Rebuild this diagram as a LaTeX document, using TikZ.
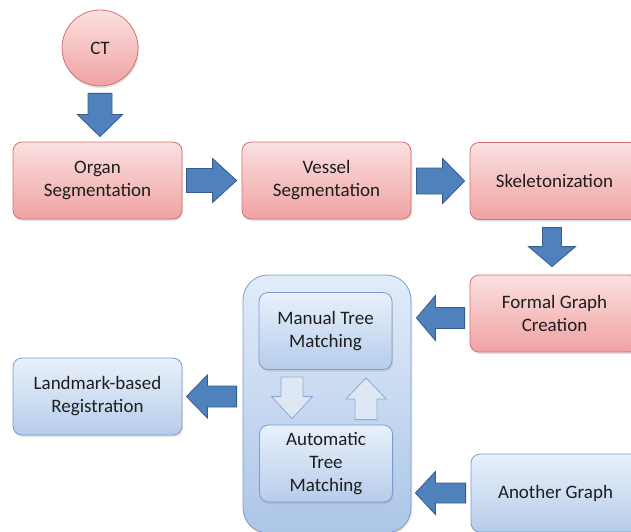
\documentclass[tikz,border=0pt]{standalone}
\usepackage{fontspec}
\setmainfont{Carlito}
\usetikzlibrary{calc,shadows}
\definecolor{redtop}{RGB}{251,224,224}
\definecolor{redbot}{RGB}{240,162,162}
\definecolor{redline}{RGB}{214,112,112}
\definecolor{bluetop}{RGB}{233,241,251}
\definecolor{bluebot}{RGB}{182,204,234}
\definecolor{blueline}{RGB}{122,158,208}
\definecolor{grptop}{RGB}{226,236,249}
\definecolor{grpbot}{RGB}{172,197,231}
\definecolor{arrfill}{RGB}{79,129,189}
\definecolor{arrline}{RGB}{56,93,138}
\definecolor{hollowfill}{RGB}{222,232,245}
\definecolor{hollowline}{RGB}{140,170,214}
\definecolor{txt}{RGB}{30,30,30}
\tikzset{
  boxtext/.style={align=center, text=txt, font=\fontsize{19}{23}\selectfont, inner sep=0pt},
  shadowed/.style={drop shadow={shadow xshift=1pt, shadow yshift=-2pt, opacity=0.22}},
  redbox/.style={boxtext, shadowed, draw=redline, line width=0.8pt, rounded corners=9pt,
    top color=redtop, bottom color=redbot, minimum width=169pt, minimum height=77pt},
  bluebox/.style={boxtext, shadowed, draw=blueline, line width=0.8pt, rounded corners=9pt,
    top color=bluetop, bottom color=bluebot, minimum width=169pt, minimum height=77pt},
  innerbox/.style={bluebox, minimum width=133pt},
  groupbox/.style={shadowed, draw=blueline, line width=0.8pt, rounded corners=25pt,
    top color=grptop, bottom color=grpbot, minimum width=168pt, minimum height=258pt},
  redcircle/.style={boxtext, shadowed, circle, draw=redline, line width=0.8pt,
    top color=redtop, bottom color=redbot, minimum size=76pt},
  solidarrow/.style={fill=arrfill, draw=arrline, line width=0.8pt, line join=miter},
  hollowarrow/.style={fill=hollowfill, draw=hollowline, line width=0.8pt, line join=miter}
}
% #2 tail, #3 tip, #4 direction angle, #5 shaft half width, #6 head half width, #7 head length
\newcommand\barrow[7][solidarrow]{%
  \draw[#1] ($(#2)+(#4+90:#5)$) -- ($(#3)+(#4+180:#7)+(#4+90:#5)$)
    -- ($(#3)+(#4+180:#7)+(#4+90:#6)$) -- (#3)
    -- ($(#3)+(#4+180:#7)+(#4-90:#6)$) -- ($(#3)+(#4+180:#7)+(#4-90:#5)$)
    -- ($(#2)+(#4-90:#5)$) -- cycle;}
\begin{document}
\begin{tikzpicture}[x=1pt,y=1pt]
\useasboundingbox (0,0) rectangle (631,-532);
\fill[white] (0,0) rectangle (631,-532);

% nodes
\node[redcircle] (ct) at (100,-48) {CT};
\node[redbox] (organ) at (97.5,-180.5) {Organ\\Segmentation};
\node[redbox] (vessel) at (326.5,-180.5) {Vessel\\Segmentation};
\node[redbox] (skel) at (554.5,-181) {Skeletonization};
\node[redbox] (formal) at (554.5,-313.5) {Formal Graph\\Creation};
\node[groupbox] (group) at (327,-404) {};
\node[innerbox] (manual) at (325.5,-331) {Manual Tree\\Matching};
\node[innerbox] (auto) at (326,-463.5) {Automatic\\Tree\\Matching};
\node[bluebox] (landmark) at (97.5,-396.5) {Landmark-based\\Registration};
\node[bluebox, minimum height=78pt] (another) at (555.5,-493) {Another Graph};

% arrow end points
\coordinate (a1s) at ($(ct.south)+(0,-7)$);
\coordinate (a1e) at ($(ct.south |- organ.north)+(0,5)$);
\coordinate (a2s) at ($(organ.east)+(4,0)$);
\coordinate (a2e) at ($(vessel.west)+(-5,0)$);
\coordinate (a3s) at ($(vessel.east)+(5,-0.5)$);
\coordinate (a3e) at ($(skel.west)+(-5,0)$);
\coordinate (a4s) at ($(skel.south)+(-2.5,-7.5)$);
\coordinate (a4e) at ($(formal.north)+(-2.5,8)$);
\coordinate (a5s) at ($(formal.west)+(-5,-4.5)$);
\coordinate (a5e) at ($(group.east |- a5s)+(5,0)$);
\coordinate (a6s) at ($(group.west |- landmark.east)+(-6,0)$);
\coordinate (a6e) at ($(landmark.east)+(4,0)$);
\coordinate (a7s) at ($(another.west)+(-5,0)$);
\coordinate (a7e) at ($(group.east |- another.west)+(4,0)$);
\coordinate (a8s) at ($(manual.south)+(-33.5,-7)$);
\coordinate (a8e) at ($(auto.north)+(-34,6)$);
\coordinate (a9s) at ($(auto.north)+(40,5)$);
\coordinate (a9e) at ($(manual.south)+(40.5,-8)$);

% block arrows
\barrow{a1s}{a1e}{-90}{12pt}{22.5pt}{22pt}
\barrow{a2s}{a2e}{0}{12pt}{22pt}{24pt}
\barrow{a3s}{a3e}{0}{13pt}{22.5pt}{22pt}
\barrow{a4s}{a4e}{-90}{9.5pt}{23.5pt}{20pt}
\barrow{a5s}{a5e}{180}{10.5pt}{22.5pt}{19pt}
\barrow{a6s}{a6e}{180}{10.5pt}{21.5pt}{21pt}
\barrow{a7s}{a7e}{180}{10pt}{21.5pt}{20pt}
\barrow[hollowarrow]{a8s}{a8e}{-90}{11pt}{20.5pt}{22pt}
\barrow[hollowarrow]{a9s}{a9e}{90}{11pt}{20pt}{21pt}
\end{tikzpicture}
\end{document}
